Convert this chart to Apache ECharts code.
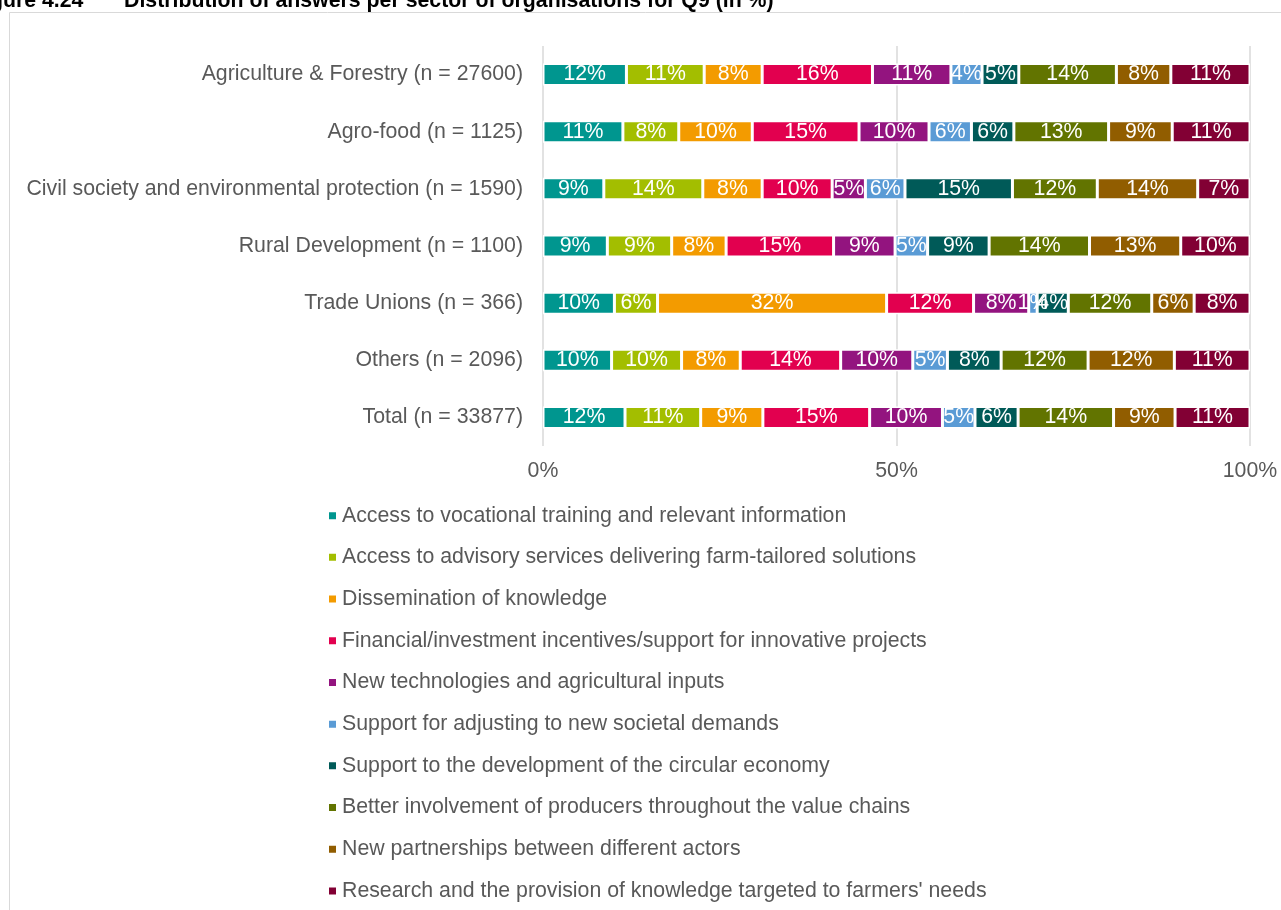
<!DOCTYPE html>
<html>
<head>
<meta charset="utf-8">
<script src="https://cdn.jsdelivr.net/npm/echarts@6/dist/echarts.min.js"></script>
<style>
html,body{margin:0;padding:0;background:#fff;}
#chart{width:1281px;height:910px;}
</style>
</head>
<body>
<div id="chart"></div>
<script>
const categories = [
  "Agriculture & Forestry (n = 27600)",
  "Agro-food (n = 1125)",
  "Civil society and environmental protection (n = 1590)",
  "Rural Development (n = 1100)",
  "Trade Unions (n = 366)",
  "Others (n = 2096)",
  "Total (n = 33877)"
];
const seriesNames = [
  "Access to vocational training and relevant information",
  "Access to advisory services delivering farm-tailored solutions",
  "Dissemination of knowledge",
  "Financial/investment incentives/support for innovative projects",
  "New technologies and agricultural inputs",
  "Support for adjusting to new societal demands",
  "Support to the development of the circular economy",
  "Better involvement of producers throughout the value chains",
  "New partnerships between different actors",
  "Research and the provision of knowledge targeted to farmers' needs"
];
const vocationalTraining   = [11.8, 11.3,  8.6,  9.1, 10.1,  9.7, 11.6];
const advisoryServices     = [11.0,  7.9, 14.0,  9.1,  6.1,  9.9, 10.7];
const disseminationKnow    = [ 8.2, 10.4,  8.4,  7.7, 32.4,  8.3,  8.8];
const financialIncentives  = [15.6, 15.1,  9.9, 15.2, 12.3, 14.2, 15.1];
const newTechnologies      = [11.1,  9.9,  4.7,  8.7,  7.8, 10.2, 10.3];
const societalDemands      = [ 4.4,  6.0,  5.6,  4.6,  1.2,  4.9,  4.6];
const circularEconomy      = [ 5.2,  6.0, 15.2,  8.7,  4.4,  7.6,  6.1];
const valueChains          = [13.8, 13.4, 12.0, 14.2, 11.8, 12.3, 13.5];
const newPartnerships      = [ 7.7,  9.0, 14.2, 12.9,  6.0, 12.2,  8.7];
const researchKnowledge    = [11.2, 11.0,  7.4,  9.8,  7.9, 10.7, 10.6];
const xTickLabels = ["0%", "50%", "100%"];

const seriesData = [vocationalTraining, advisoryServices, disseminationKnow, financialIncentives,
  newTechnologies, societalDemands, circularEconomy, valueChains, newPartnerships, researchKnowledge];
const colors = ["#00968F", "#A3BE00", "#F39B00", "#E2004F", "#93147F", "#5A9BD5", "#005A58", "#627400", "#915D00", "#820034"];
const FONT = "Arial, 'Liberation Sans', sans-serif";
const FS = 21.3;

const chart = echarts.init(document.getElementById('chart'), null, {renderer: 'canvas'});
chart.setOption({
  animation: false,
  color: colors,
  graphic: [
    {type: 'rect', shape: {x: 9.5, y: 12.5, width: 1400, height: 1000}, style: {fill: 'none', stroke: '#d9d9d9', lineWidth: 1}, silent: true},
    {type: 'text', x: -29, y: 1, style: {text: 'Figure 4.24', font: 'bold ' + FS + 'px ' + FONT, fill: '#000', verticalAlign: 'middle'}},
    {type: 'text', x: 124, y: 1, style: {text: 'Distribution of answers per sector of organisations for Q9 (in %)', font: 'bold ' + FS + 'px ' + FONT, fill: '#000', verticalAlign: 'middle'}}
  ],
  grid: {left: 543, right: 31, top: 46, bottom: 464, containLabel: false},
  legend: {
    orient: 'vertical',
    left: 322,
    top: 500,
    itemWidth: 9,
    itemHeight: 9,
    itemGap: 20.4,
    icon: 'rect',
    data: seriesNames,
    textStyle: {fontFamily: FONT, fontSize: FS, color: '#595959', lineHeight: FS, padding: [0, 0, 0, 0]},
    selectedMode: false
  },
  xAxis: {
    type: 'value',
    min: 0,
    max: 100,
    interval: 50,
    axisLine: {show: false},
    axisTick: {show: false},
    splitLine: {show: true, lineStyle: {color: '#d9d9d9', width: 1.5}},
    axisLabel: {
      fontFamily: FONT, fontSize: FS, color: '#595959', margin: 15,
      formatter: function (v) { return xTickLabels[Math.round(v / 50)]; }
    }
  },
  yAxis: {
    type: 'category',
    data: categories,
    inverse: true,
    axisLine: {show: false},
    axisTick: {show: false},
    splitLine: {show: false},
    axisLabel: {fontFamily: FONT, fontSize: FS, color: '#595959', margin: 20}
  },
  series: seriesNames.map(function (name, i) {
    return {
      name: name,
      type: 'bar',
      stack: 'total',
      barWidth: 22,
      data: seriesData[i],
      itemStyle: {borderColor: '#ffffff', borderWidth: 1.5},
      label: {
        show: true,
        position: 'inside',
        color: '#ffffff',
        fontFamily: FONT,
        fontSize: FS,
        formatter: function (p) { return Math.round(p.value) + '%'; }
      },
      labelLayout: {hideOverlap: false}
    };
  })
});
</script>
</body>
</html>
